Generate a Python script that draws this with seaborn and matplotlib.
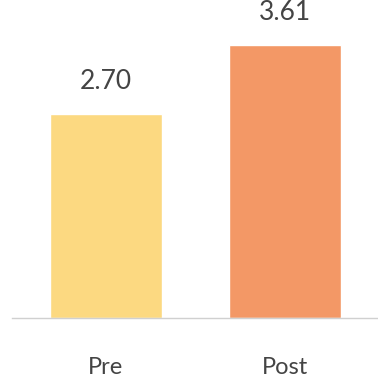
import matplotlib
matplotlib.use("Agg")
import matplotlib.pyplot as plt
import seaborn as sns
import pandas as pd

categories = ["Pre", "Post"]
values = [2.70, 3.61]
colors = ["#FCD981", "#F39866"]

sns.set_style("white")
plt.rcParams['font.family'] = ['Lato', 'DejaVu Sans']

df = pd.DataFrame({"phase": categories, "score": values})

fig = plt.figure(figsize=(3.78, 3.81), dpi=100)
ax = fig.add_axes([12 / 378, 63 / 381, 366 / 378, 318 / 381])

sns.barplot(data=df, x="phase", y="score", hue="phase", palette=colors,
            width=0.625, legend=False, ax=ax, saturation=1)

for i, v in enumerate(values):
    ax.annotate(f"{v:.2f}", (i, v), xytext=(0, 23), textcoords="offset points",
                ha="center", va="center", fontsize=19, color="#444444")

ax.set_xlim(-0.525, 1.52)
ax.set_ylim(0, 4.2)
sns.despine(ax=ax, left=True, top=True, right=True)
ax.spines['bottom'].set_color("#d0d0d0")
ax.spines['bottom'].set_linewidth(1)
ax.set_yticks([])
ax.set_xlabel("")
ax.set_ylabel("")
ax.tick_params(axis="x", length=0, pad=28, labelsize=17, labelcolor="#444444")

fig.savefig("out.png", dpi=100)
